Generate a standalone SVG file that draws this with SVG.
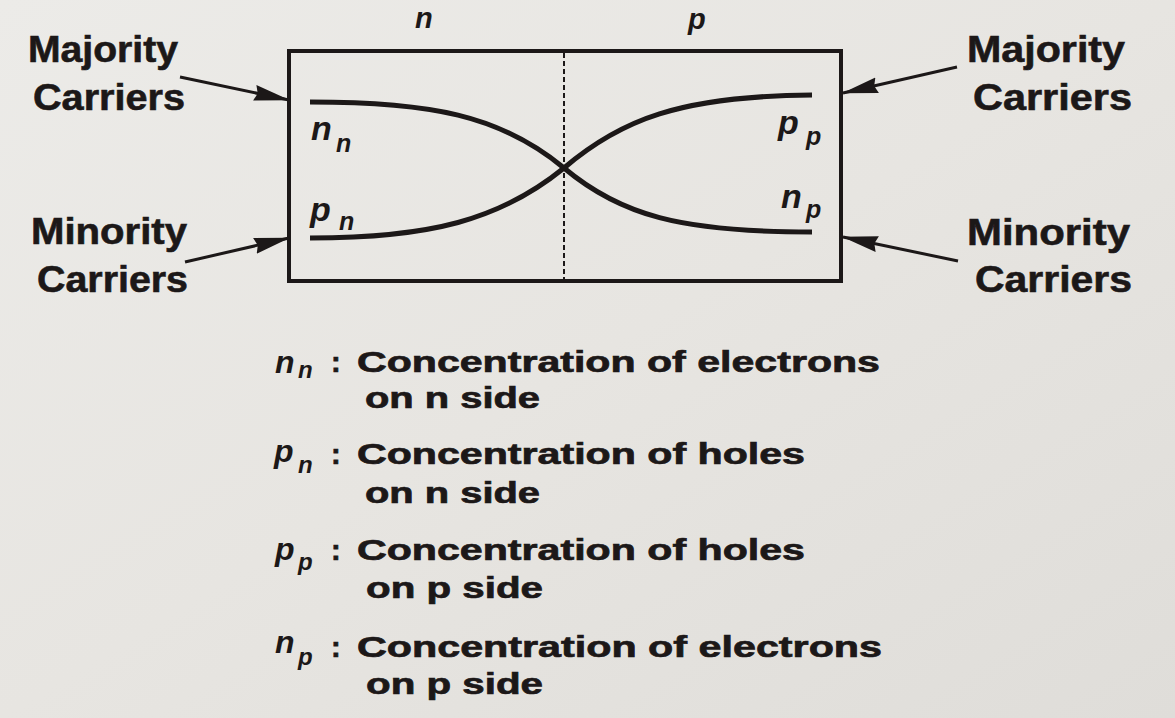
<svg xmlns="http://www.w3.org/2000/svg" width="1175" height="718" viewBox="0 0 1175 718">
  <defs>
    <linearGradient id="bg" x1="0" y1="0" x2="1" y2="1">
      <stop offset="0" stop-color="#ecebe8"/>
      <stop offset="0.5" stop-color="#e7e5e1"/>
      <stop offset="1" stop-color="#dfddd9"/>
    </linearGradient>
    <marker id="arrow" viewBox="0 0 36 18" refX="35" refY="9" markerWidth="36" markerHeight="18" markerUnits="userSpaceOnUse" orient="auto">
      <path d="M0,1 L36,9 L0,17 L3,9 z" fill="#1c1818"/>
    </marker>
  </defs>
  <style>
    .lbl { font-family: "Liberation Sans", Arial, sans-serif; font-weight: bold; font-size: 36px; fill: #1c1818; stroke: #1c1818; stroke-width: 0.6; }
    .leg { font-family: "Liberation Sans", Arial, sans-serif; font-weight: bold; font-size: 29px; fill: #1c1818; stroke: #1c1818; stroke-width: 0.7; }
    .sym { font-family: "Liberation Sans", Arial, sans-serif; font-weight: bold; font-style: italic; fill: #1c1818; }
    .curve { fill: none; stroke: #1c1818; stroke-width: 5; stroke-linecap: butt; }
    .conn { fill: none; stroke: #1c1818; stroke-width: 3; }
  </style>
  <rect x="0" y="0" width="1175" height="718" fill="url(#bg)"/>

  <g id="junction">
    <rect x="289" y="51" width="552" height="230" fill="none" stroke="#1c1818" stroke-width="4"/>
    <line x1="564" y1="53" x2="564" y2="279" stroke="#1c1818" stroke-width="2" stroke-dasharray="5,3"/>
    <text class="sym" x="415" y="28" font-size="29">n</text>
    <text class="sym" x="688" y="29" font-size="29">p</text>
  </g>

  <g id="curve-n">
    <path class="curve" d="M310,102 C430,102 500,115 564,168 C620,215 680,232 812,232"/>
    <text class="sym" x="311" y="140" font-size="34">n</text>
    <text class="sym" x="336" y="152" font-size="25">n</text>
    <text class="sym" x="781" y="208" font-size="34">n</text>
    <text class="sym" x="806" y="218" font-size="25">p</text>
  </g>

  <g id="curve-p">
    <path class="curve" d="M310,238 C430,238 500,220 564,168 C620,120 680,96 812,95"/>
    <text class="sym" x="310" y="221" font-size="34">p</text>
    <text class="sym" x="339" y="230" font-size="25">n</text>
    <text class="sym" x="778" y="134" font-size="34">p</text>
    <text class="sym" x="806" y="145" font-size="25">p</text>
  </g>

  <g id="label-left-majority">
    <text class="lbl" x="28" y="62" textLength="150" lengthAdjust="spacingAndGlyphs">Majority</text>
    <text class="lbl" x="33" y="110" textLength="152" lengthAdjust="spacingAndGlyphs">Carriers</text>
  </g>
  <g id="label-left-minority">
    <text class="lbl" x="31" y="244" textLength="156" lengthAdjust="spacingAndGlyphs">Minority</text>
    <text class="lbl" x="37" y="292" textLength="151" lengthAdjust="spacingAndGlyphs">Carriers</text>
  </g>
  <g id="label-right-majority">
    <text class="lbl" x="967" y="62" textLength="158" lengthAdjust="spacingAndGlyphs">Majority</text>
    <text class="lbl" x="973" y="110" textLength="159" lengthAdjust="spacingAndGlyphs">Carriers</text>
  </g>
  <g id="label-right-minority">
    <text class="lbl" x="967" y="245" textLength="163" lengthAdjust="spacingAndGlyphs">Minority</text>
    <text class="lbl" x="975" y="292" textLength="157" lengthAdjust="spacingAndGlyphs">Carriers</text>
  </g>

  <g id="connectors">
    <line class="conn" x1="180" y1="77" x2="289" y2="100" marker-end="url(#arrow)"/>
    <line class="conn" x1="185" y1="262" x2="289" y2="238" marker-end="url(#arrow)"/>
    <line class="conn" x1="957" y1="67" x2="843" y2="93" marker-end="url(#arrow)"/>
    <line class="conn" x1="958" y1="261" x2="843" y2="237" marker-end="url(#arrow)"/>
  </g>

  <g id="legend">
    <g id="legend-nn">
      <text class="sym" x="275" y="373" font-size="32">n</text>
      <text class="sym" x="298" y="378" font-size="24">n</text>
      <text class="leg" x="331" y="372">:</text>
      <text class="leg" x="357" y="372" textLength="523" lengthAdjust="spacingAndGlyphs">Concentration of electrons</text>
      <text class="leg" x="365" y="408" textLength="175" lengthAdjust="spacingAndGlyphs">on n side</text>
    </g>
    <g id="legend-pn">
      <text class="sym" x="274" y="462" font-size="32">p</text>
      <text class="sym" x="298" y="473" font-size="24">n</text>
      <text class="leg" x="331" y="464">:</text>
      <text class="leg" x="357" y="464" textLength="448" lengthAdjust="spacingAndGlyphs">Concentration of holes</text>
      <text class="leg" x="365" y="503" textLength="175" lengthAdjust="spacingAndGlyphs">on n side</text>
    </g>
    <g id="legend-pp">
      <text class="sym" x="275" y="560" font-size="32">p</text>
      <text class="sym" x="298" y="570" font-size="24">p</text>
      <text class="leg" x="331" y="560">:</text>
      <text class="leg" x="357" y="560" textLength="448" lengthAdjust="spacingAndGlyphs">Concentration of holes</text>
      <text class="leg" x="366" y="598" textLength="177" lengthAdjust="spacingAndGlyphs">on p side</text>
    </g>
    <g id="legend-np">
      <text class="sym" x="275" y="653" font-size="32">n</text>
      <text class="sym" x="298" y="665" font-size="24">p</text>
      <text class="leg" x="331" y="657">:</text>
      <text class="leg" x="357" y="657" textLength="525" lengthAdjust="spacingAndGlyphs">Concentration of electrons</text>
      <text class="leg" x="366" y="694" textLength="177" lengthAdjust="spacingAndGlyphs">on p side</text>
    </g>
  </g>
</svg>
